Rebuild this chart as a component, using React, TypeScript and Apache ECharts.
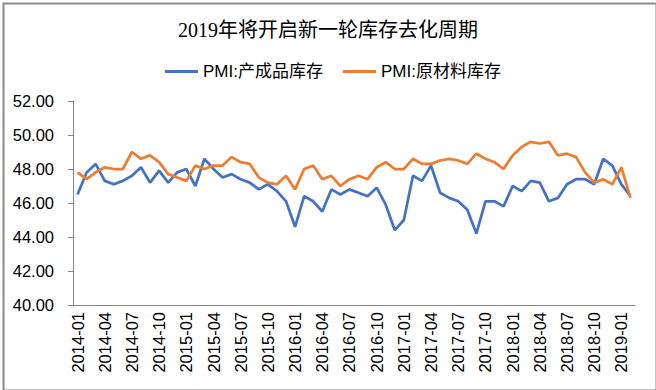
import React, { useEffect, useRef } from "react";
import * as echarts from "echarts";

const titleText = "2019年将开启新一轮库存去化周期";
const seriesNames = ["PMI:产成品库存", "PMI:原材料库存"];

const months: string[] = [
  "2014-01","2014-02","2014-03","2014-04","2014-05","2014-06","2014-07","2014-08","2014-09","2014-10","2014-11","2014-12",
  "2015-01","2015-02","2015-03","2015-04","2015-05","2015-06","2015-07","2015-08","2015-09","2015-10","2015-11","2015-12",
  "2016-01","2016-02","2016-03","2016-04","2016-05","2016-06","2016-07","2016-08","2016-09","2016-10","2016-11","2016-12",
  "2017-01","2017-02","2017-03","2017-04","2017-05","2017-06","2017-07","2017-08","2017-09","2017-10","2017-11","2017-12",
  "2018-01","2018-02","2018-03","2018-04","2018-05","2018-06","2018-07","2018-08","2018-09","2018-10","2018-11","2018-12",
  "2019-01","2019-02",
];

const finishedGoods: number[] = [
  46.5, 47.8, 48.3, 47.3, 47.1, 47.3, 47.6, 48.1, 47.2, 47.9, 47.2, 47.8,
  48.0, 47.0, 48.6, 48.0, 47.5, 47.7, 47.4, 47.2, 46.8, 47.1, 46.7, 46.1,
  44.6, 46.4, 46.1, 45.5, 46.8, 46.5, 46.8, 46.6, 46.4, 46.9, 45.9, 44.4,
  45.0, 47.6, 47.3, 48.2, 46.6, 46.3, 46.1, 45.6, 44.2, 46.1, 46.1, 45.8,
  47.0, 46.7, 47.3, 47.2, 46.1, 46.3, 47.1, 47.4, 47.4, 47.1, 48.6, 48.2,
  47.1, 46.4,
];

const rawMaterials: number[] = [
  47.8, 47.4, 47.8, 48.1, 48.0, 48.0, 49.0, 48.6, 48.8, 48.4, 47.7, 47.5,
  47.3, 48.2, 48.0, 48.2, 48.2, 48.7, 48.4, 48.3, 47.5, 47.2, 47.1, 47.6,
  46.8, 48.0, 48.2, 47.4, 47.6, 47.0, 47.4, 47.6, 47.4, 48.1, 48.4, 48.0,
  48.0, 48.6, 48.3, 48.3, 48.5, 48.6, 48.5, 48.3, 48.9, 48.6, 48.4, 48.0,
  48.8, 49.3, 49.6, 49.5, 49.6, 48.8, 48.9, 48.7, 47.8, 47.2, 47.4, 47.1,
  48.1, 46.3,
];

const colors = ["#4472C4", "#ED7D31"];

export default function App() {
  const ref = useRef<HTMLDivElement>(null);
  useEffect(() => {
    if (!ref.current) return;
    const chart = echarts.init(ref.current, null, { renderer: "svg" });
    const axisColor = "#868686";
    const sans = "'Liberation Sans', Arial, 'Noto Sans CJK SC', sans-serif";
    chart.setOption({
      animation: false,
      backgroundColor: "#ffffff",
      title: {
        text: titleText,
        left: "center",
        top: 15,
        textStyle: {
          fontFamily: "'Liberation Serif', 'Times New Roman', 'Noto Sans CJK SC', serif",
          fontSize: 20,
          fontWeight: "normal",
          color: "#000",
        },
      },
      legend: {
        left: 160,
        top: 58,
        itemGap: 20,
        itemWidth: 33,
        itemHeight: 3,
        icon: "rect",
        textStyle: { fontFamily: sans, fontSize: 17, color: "#000" },
        data: seriesNames,
      },
      graphic: [
        {
          type: "rect",
          left: 1,
          top: 1,
          shape: { x: 0, y: 0, width: 653, height: 387 },
          style: { fill: "none", stroke: "#8a8a8a", lineWidth: 2 },
          silent: true,
        },
      ],
      grid: { left: 73, right: 21, top: 101, bottom: 85 },
      xAxis: {
        type: "category",
        data: months,
        boundaryGap: true,
        axisLine: { lineStyle: { color: axisColor, width: 1 } },
        axisTick: { interval: 2, length: 4, lineStyle: { color: axisColor } },
        axisLabel: {
          interval: 2,
          rotate: 90,
          margin: 7,
          fontFamily: sans,
          fontSize: 16.5,
          color: "#000",
        },
        splitLine: { show: false },
      },
      yAxis: {
        type: "value",
        min: 40,
        max: 52,
        interval: 2,
        axisLine: { show: true, lineStyle: { color: axisColor, width: 1 } },
        axisTick: { show: true, length: 5, lineStyle: { color: axisColor } },
        axisLabel: {
          margin: 19,
          fontFamily: sans,
          fontSize: 16.5,
          color: "#000",
          formatter: (v: number) => v.toFixed(2),
        },
        splitLine: { show: false },
      },
      series: [
        {
          name: seriesNames[0],
          type: "line",
          data: finishedGoods,
          symbol: "none",
          lineStyle: { color: colors[0], width: 2.75 },
          itemStyle: { color: colors[0] },
        },
        {
          name: seriesNames[1],
          type: "line",
          data: rawMaterials,
          symbol: "none",
          lineStyle: { color: colors[1], width: 2.75 },
          itemStyle: { color: colors[1] },
        },
      ],
    });
    return () => chart.dispose();
  }, []);
  return (
    <div
      ref={ref}
      style={{ position: "absolute", left: 0, top: 0, width: 656, height: 390 }}
    />
  );
}
